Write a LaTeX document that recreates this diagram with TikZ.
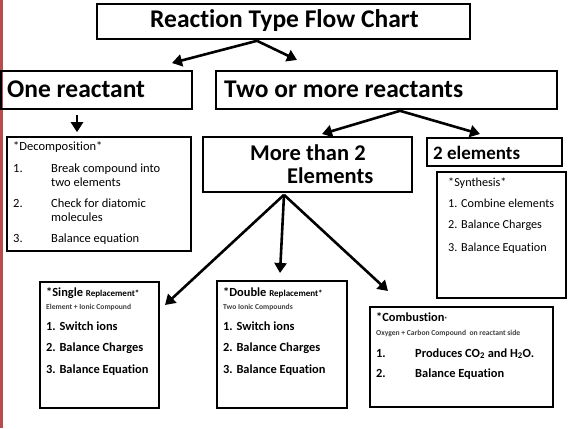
\documentclass[tikz,border=0pt]{standalone}
\usepackage{fontspec}
\setmainfont{Carlito}[Ligatures=NoCommon]
\usetikzlibrary{arrows.meta,calc}
\begin{document}
\begin{tikzpicture}[x=1pt,y=-1pt,
  box/.style={draw=black,line width=1.6pt,inner sep=0pt},
  arr/.style={line width=2.6pt,-{Triangle[length=10pt,width=12pt]}},
  tx/.style={anchor=base west,inner sep=0pt,text=black},
  big/.style={tx,font=\bfseries\fontsize{25.5}{30}\selectfont},
  mid/.style={tx,font=\bfseries\fontsize{22.5}{26}\selectfont},
  small/.style={tx,font=\fontsize{12.5}{15}\selectfont},
  synth/.style={tx,font=\fontsize{12.2}{15}\selectfont},
  bitem/.style={tx,font=\bfseries\fontsize{12.4}{15}\selectfont},
  tiny/.style={tx,font=\bfseries\fontsize{7.6}{9}\selectfont,text=black!75}]
\useasboundingbox (0,0) rectangle (575,428);
\fill[white] (0,0) rectangle (575,428);
\fill[red!60!black!70] (0,0) rectangle (2.5,428);
% boxes
\node[box,minimum width=373pt,minimum height=35pt] (title) at (283.5,21.5) {};
\node[box,minimum width=191pt,minimum height=38pt] (one) at (96.5,90) {};
\node[box,minimum width=341pt,minimum height=38pt] (two) at (386.5,90) {};
\node[box,minimum width=184pt,minimum height=114pt] (dec) at (99,194) {};
\node[box,minimum width=209pt,minimum height=55pt] (more) at (307.5,164.5) {};
\node[box,minimum width=135pt,minimum height=28pt] (twoel) at (494.5,152) {};
\node[box,minimum width=129pt,minimum height=126pt] (syn) at (501.5,235) {};
\node[box,minimum width=119pt,minimum height=126pt] (single) at (99.5,345) {};
\node[box,minimum width=130pt,minimum height=127pt] (double) at (282,344.5) {};
\node[box,minimum width=183pt,minimum height=100pt] (comb) at (461.5,357) {};
% texts
\node[big] (ttitle) at (150,28) {Reaction Type Flow Chart};
\node[big] (tone) at (7,97) {One reactant};
\node[big] (ttwo) at (224,97) {Two or more reactants};
\node[mid] (tmore1) at (250,160) {More than 2};
\node[mid] (tmore2) at (287,183) {Elements};
\node[tx,font=\bfseries\fontsize{19}{22}\selectfont] (ttwoel) at (433,159) {2 elements};
% decomposition
\node[small] (d0) at (13,150) {*Decomposition*};
\node[small] (d1n) at (13,172) {1.};
\node[small] (d1) at (51,172) {Break compound into};
\node[small] (d1b) at (51,186) {two elements};
\node[small] (d2n) at (13,207) {2.};
\node[small] (d2) at (51,207) {Check for diatomic};
\node[small] (d2b) at (51,221) {molecules};
\node[small] (d3n) at (13,242) {3.};
\node[small] (d3) at (51,242) {Balance equation};
% synthesis
\node[synth] (s0) at (448,186) {*Synthesis*};
\node[synth] (s1) at (448,207) {1. Combine elements};
\node[synth] (s2) at (448,228) {2. Balance Charges};
\node[synth] (s3) at (448,251) {3. Balance Equation};
% single
\node[bitem] (r0) at (46,296) {*Single {\fontsize{9}{10}\selectfont Replacement*}};
\node[tiny] (r00) at (46,309) {Element + Ionic Compound};
\node[bitem] (r1) at (46,330) {1. Switch ions};
\node[bitem] (r2) at (46,351) {2. Balance Charges};
\node[bitem] (r3) at (46,373) {3. Balance Equation};
% double
\node[bitem] (q0) at (223,296) {*Double {\fontsize{9}{10}\selectfont Replacement*}};
\node[tiny] (q00) at (223,309) {Two Ionic Compounds};
\node[bitem] (q1) at (223,330) {1. Switch ions};
\node[bitem] (q2) at (223,351) {2. Balance Charges};
\node[bitem] (q3) at (223,373) {3. Balance Equation};
% combustion
\node[bitem] (c0) at (376,321) {*Combustion{\fontsize{6}{7}\selectfont*}};
\node[tiny] (c00) at (376,335) {Oxygen + Carbon Compound\ \ on reactant side};
\node[bitem] (c1n) at (376,357) {1.};
\node[bitem] (c1) at (415,357) {Produces CO\textsubscript{2} and H\textsubscript{2}O.};
\node[bitem] (c2n) at (376,377) {2.};
\node[bitem] (c2) at (415,377) {Balance Equation};
% arrow coordinates
\coordinate (a0) at ($(title.south)+(-26.5,1)$);
\coordinate (a1) at (172,63);
\coordinate (a2) at (297,60);
\coordinate (b0) at ($(one.south)+(-19.5,5)$);
\coordinate (b1) at ($(dec.north)+(-22,-4)$);
\coordinate (c0a) at ($(two.south)+(13.5,1)$);
\coordinate (c1a) at (322,134);
\coordinate (c2a) at (480,134);
\coordinate (e0) at ($(more.south)+(-23.5,2)$);
\coordinate (e1) at (165,305);
\coordinate (e2) at (280,273);
\coordinate (e3) at (388,291);
\draw[arr] (a0) -- (a1);
\draw[arr] (a0) -- (a2);
\draw[arr] (b0) -- (b1);
\draw[arr] (c0a) -- (c1a);
\draw[arr] (c0a) -- (c2a);
\draw[arr] (e0) -- (e1);
\draw[arr] (e0) -- (e2);
\draw[arr] (e0) -- (e3);
\end{tikzpicture}
\end{document}
